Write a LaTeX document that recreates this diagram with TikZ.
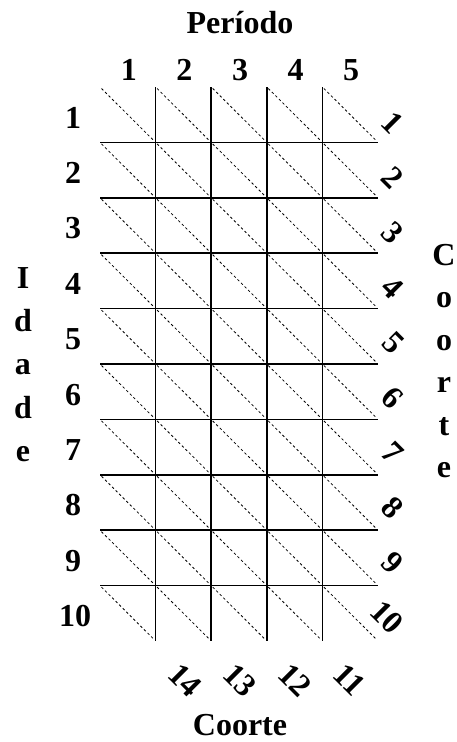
\documentclass[tikz,border=0pt]{standalone}
\usepackage{fontspec}
\setmainfont{Liberation Serif}
\begin{document}
\begin{tikzpicture}[x=1pt,y=-1pt,
  lbl/.style={font=\fontsize{32}{36}\selectfont\bfseries, inner sep=0pt},
  rlbl/.style={lbl, rotate=-45},
  gridline/.style={line width=1.5pt},
  diag/.style={line width=0.8pt, dash pattern=on 2.5pt off 2.5pt}]
\useasboundingbox (0,0) rectangle (456,742);
% horizontal lines
\foreach \k in {1,...,9}
  \draw[gridline] (100,{87+\k*55.4}) -- (378,{87+\k*55.4});
% vertical lines
\foreach \j in {1,...,4}
  \draw[gridline] ({100+\j*55.6},87) -- ({100+\j*55.6},641);
% dashed diagonals
\foreach \j in {0,...,4}
  \foreach \k in {0,...,9}
    \draw[diag] ({100+\j*55.6+1.5},{87+\k*55.4+1.5}) -- ({100+(\j+1)*55.6-2.5},{87+(\k+1)*55.4-2.5});
% titles
\node[lbl,anchor=base] (periodo) at (240,33) {Período};
\node[lbl,anchor=base] (coorteb) at (240,735) {Coorte};
% period numbers
\foreach \j in {1,...,5}
  \node[lbl,anchor=base] (p\j) at ({100+(\j-0.5)*55.6+1},80) {\j};
% age numbers
\foreach \k in {1,...,9}
  \node[lbl,anchor=base] (a\k) at (73,{128+(\k-1)*55.4}) {\k};
\node[lbl,anchor=base] (a10) at (75,{128+9*55.4}) {10};
% Idade vertical
\foreach \c [count=\i from 0] in {I,d,a,d,e}
  \node[lbl,anchor=base] (id\i) at (23,{288+\i*43.4}) {\c};
% Coorte vertical
\foreach \c [count=\i from 0] in {C,o,o,r,t,e}
  \node[lbl,anchor=base] (co\i) at (444,{265+\i*42.5}) {\c};
% right rotated cohort numbers
\foreach \k in {1,...,9}
  \node[rlbl] (r\k) at (393,{123+(\k-1)*55}) {\k};
\node[rlbl] (r10) at (387,617) {10};
% bottom rotated cohort numbers
\node[rlbl] (b14) at (185,680) {14};
\node[rlbl] (b13) at (240,680) {13};
\node[rlbl] (b12) at (295,680) {12};
\node[rlbl] (b11) at (350,680) {11};
\end{tikzpicture}
\end{document}
